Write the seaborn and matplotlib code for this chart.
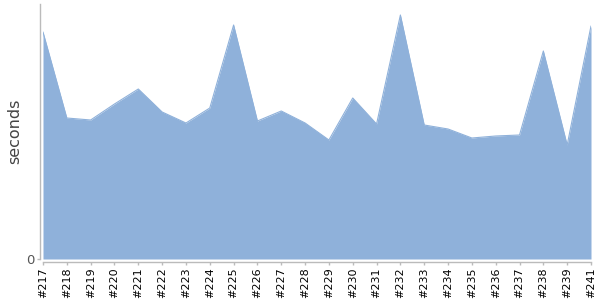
import matplotlib
matplotlib.use("Agg")
import matplotlib.pyplot as plt
import seaborn as sns
import pandas as pd

builds = ["#217", "#218", "#219", "#220", "#221", "#222", "#223", "#224", "#225",
          "#226", "#227", "#228", "#229", "#230", "#231", "#232", "#233", "#234",
          "#235", "#236", "#237", "#238", "#239", "#241"]
seconds = [227, 141, 139, 155, 170, 147, 136, 151, 234, 138, 148, 136, 119, 161,
           135, 244, 134, 130, 121, 123, 124, 208, 114, 233]

df = pd.DataFrame({"build": builds, "seconds": seconds, "pos": range(len(builds))})

sns.set_style("white")
plt.rcParams['font.family'] = ['DejaVu Sans']

fig = plt.figure(figsize=(6, 3), dpi=100)
ax = fig.add_axes([43 / 600, 41 / 300, 548 / 600, 255 / 300])

color = "#8fb1da"
sns.lineplot(data=df, x="pos", y="seconds", ax=ax, color=color, linewidth=0.8)
ax.fill_between(df["pos"], 0, df["seconds"], color=color, linewidth=0)

ax.set_xlim(0, len(builds) - 1)
ax.set_ylim(0, 255)
ax.set_xticks(df["pos"])
ax.set_xticklabels(df["build"])
ax.set_yticks([0])
ax.set_yticklabels(["0"])
ax.set_xlabel("")
ax.set_ylabel("seconds", fontsize=11.5, color="#444444", labelpad=3)

for side in ["top", "right"]:
    ax.spines[side].set_visible(False)
for side in ["left", "bottom"]:
    ax.spines[side].set_color("#bbbbbb")
    ax.spines[side].set_linewidth(1)
ax.spines["left"].set_position(("outward", 2.2))
ax.spines["bottom"].set_position(("outward", 2.2))
ax.tick_params(axis="both", which="both", length=2.2, width=1, color="#bbbbbb",
               bottom=True, left=True, pad=1.5)
for lab in ax.get_xticklabels():
    lab.set_rotation(90)
    lab.set_fontsize(8)
    lab.set_color("black")
    lab.set_va("top")
    lab.set_ha("center")
for lab in ax.get_yticklabels():
    lab.set_fontsize(9.5)
    lab.set_color("#555555")

fig.savefig("out.png", dpi=100)
